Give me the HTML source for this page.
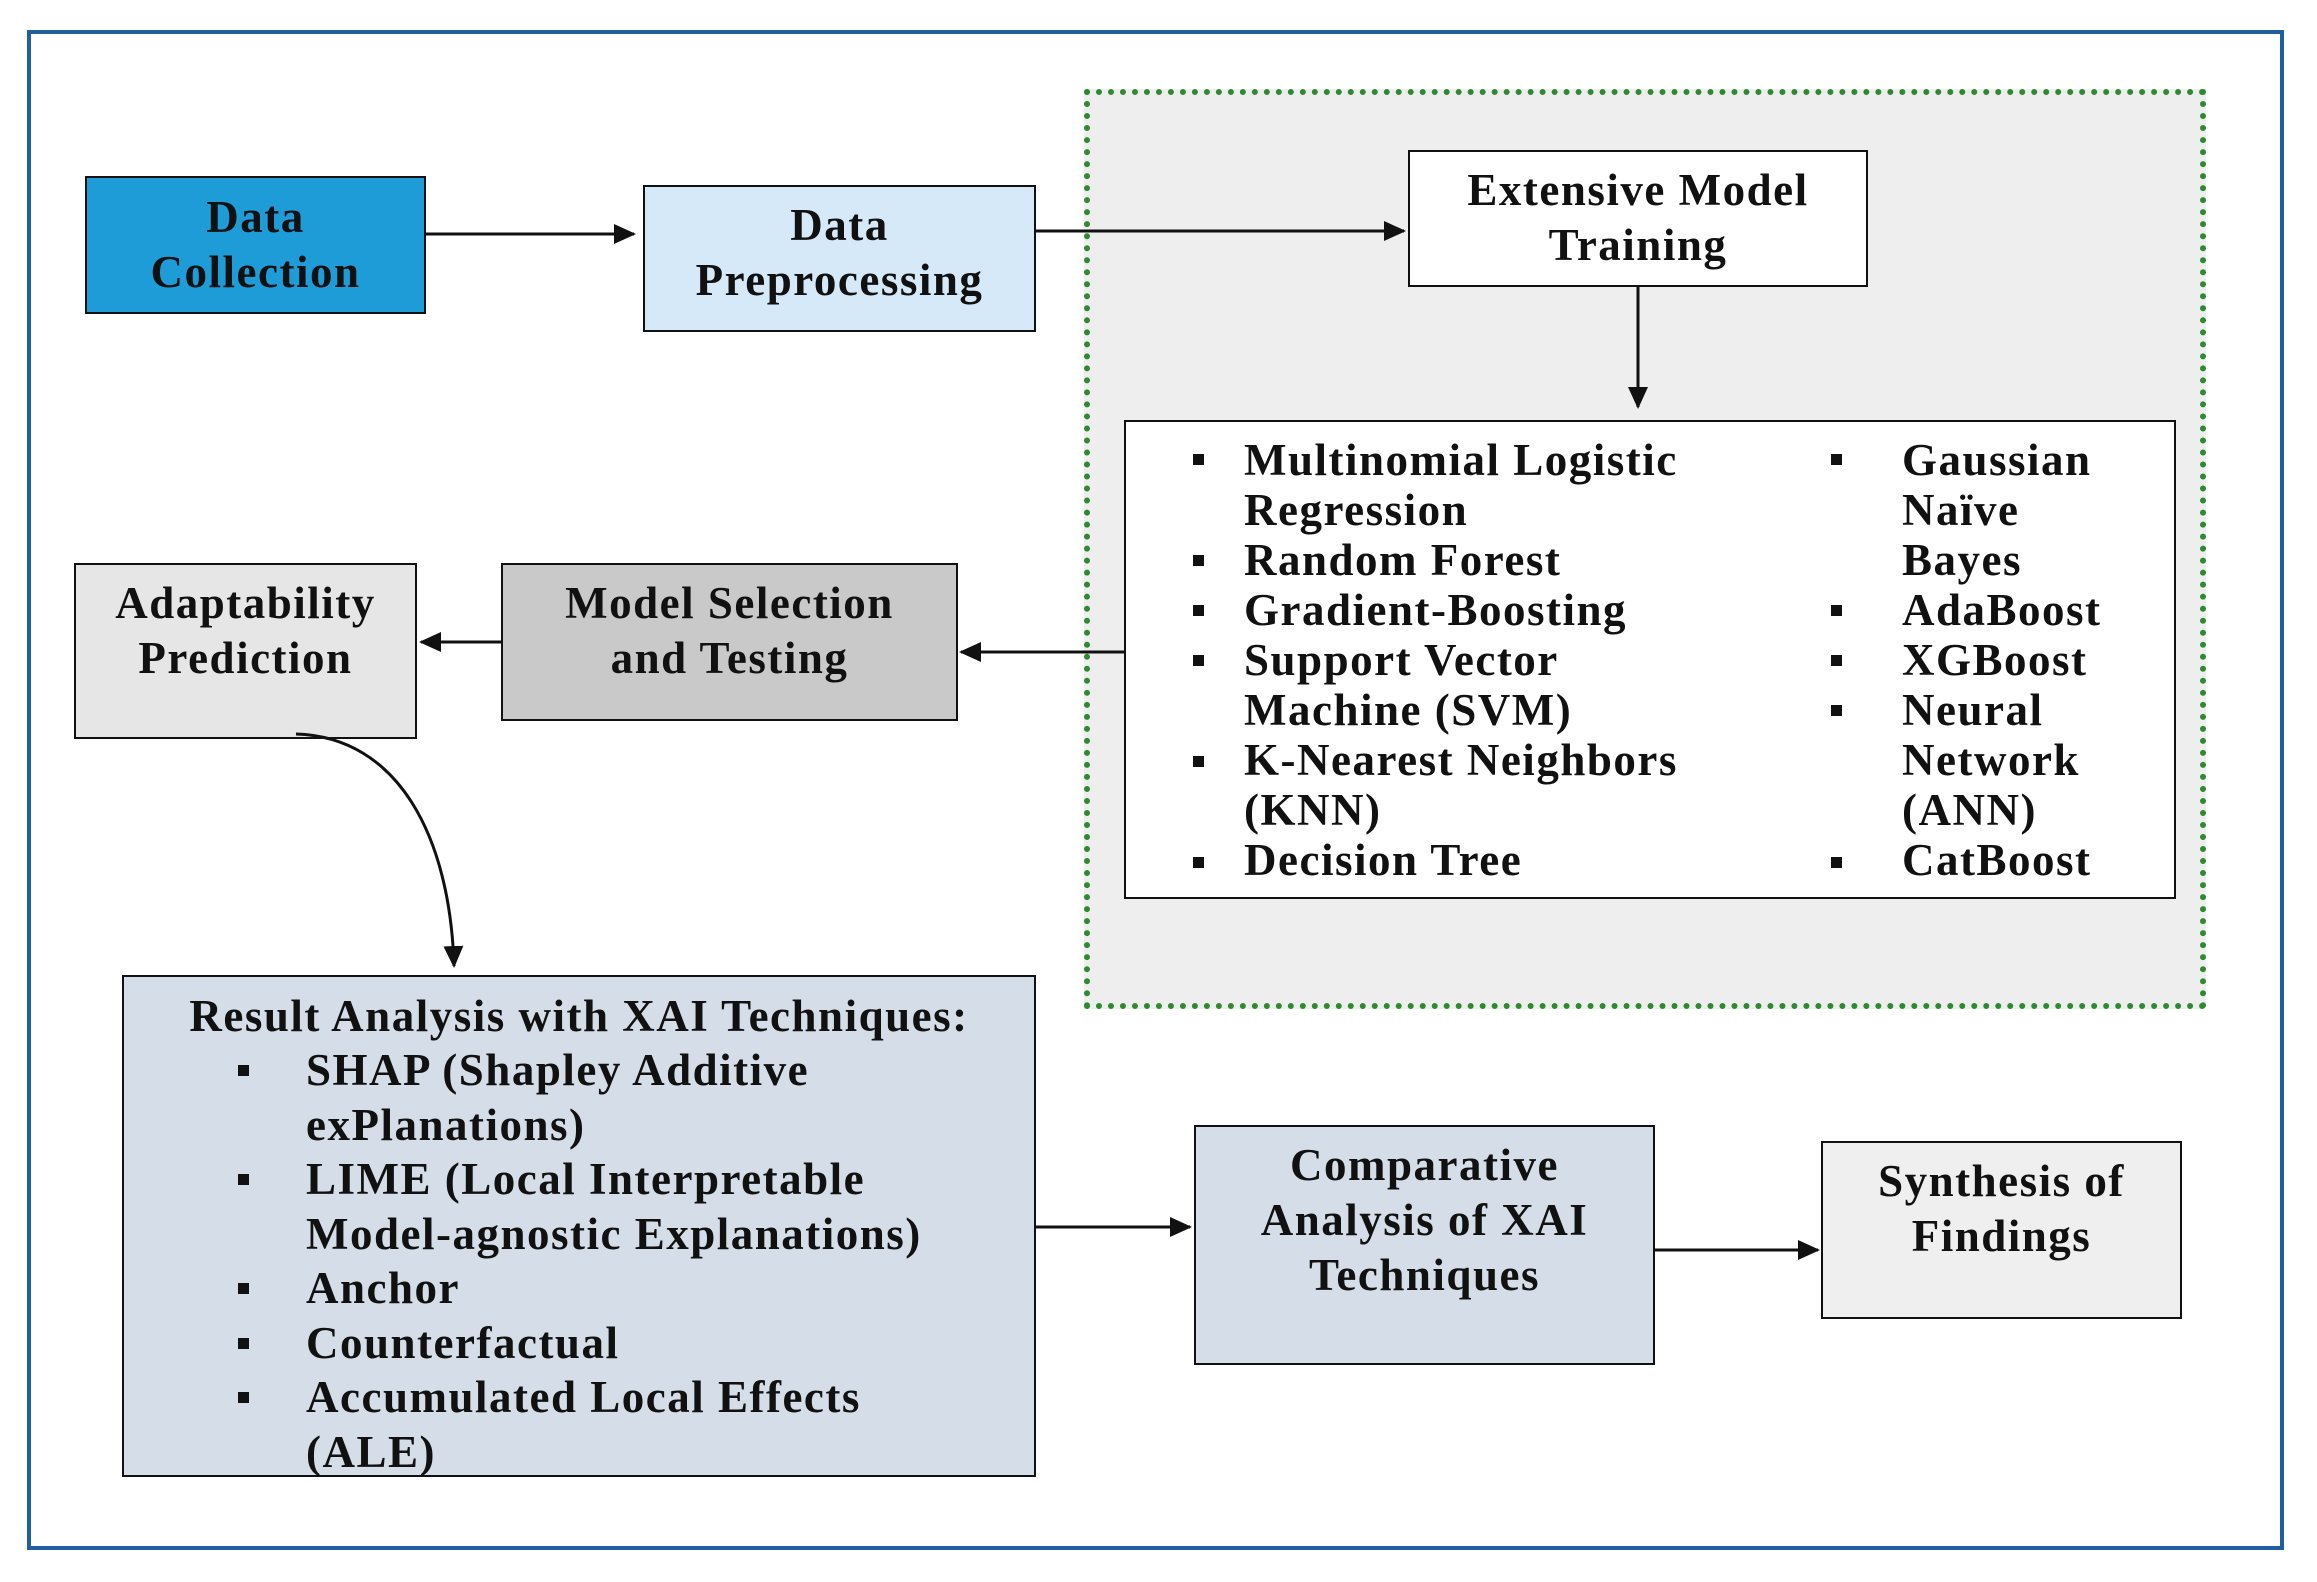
<!DOCTYPE html>
<html><head><meta charset="utf-8"><style>
body{margin:0;width:2317px;height:1582px;background:#fff;position:relative;overflow:hidden;font-family:"Liberation Serif",serif;font-weight:bold;color:#111}
.b{position:absolute;box-sizing:border-box;border:2px solid #111}
.t{position:absolute;white-space:nowrap;font-size:45px;line-height:50px;letter-spacing:1.5px}
.c{text-align:center}
.sq{position:absolute;width:11px;height:11px;background:#111}
</style></head><body>
<div class="b" style="left:27px;top:30px;width:2257px;height:1520px;border:4px solid #1f5fa0"></div>
<div class="b" style="left:1084px;top:89px;width:1122px;height:920px;border:6px dotted #2e8a2e;background:#eeeeee"></div>

<div class="b" style="left:85px;top:176px;width:341px;height:138px;background:#1e9cd8"></div>
<div class="t c" style="left:85px;top:190px;width:341px;line-height:55px">Data<br>Collection</div>

<div class="b" style="left:643px;top:185px;width:393px;height:147px;background:#d6e9f8"></div>
<div class="t c" style="left:643px;top:198px;width:393px;line-height:55px">Data<br>Preprocessing</div>

<div class="b" style="left:1408px;top:150px;width:460px;height:137px;background:#fff"></div>
<div class="t c" style="left:1408px;top:163px;width:460px;line-height:55px">Extensive Model<br>Training</div>

<div class="b" style="left:1124px;top:420px;width:1052px;height:479px;background:#fff"></div>
<div class="t" style="left:1244px;top:435px">Multinomial Logistic<br>Regression<br>Random Forest<br>Gradient-Boosting<br>Support Vector<br>Machine (SVM)<br>K-Nearest Neighbors<br>(KNN)<br>Decision Tree</div>
<div class="t" style="left:1902px;top:435px">Gaussian<br>Naïve<br>Bayes<br>AdaBoost<br>XGBoost<br>Neural<br>Network<br>(ANN)<br>CatBoost</div>
<div class="sq" style="left:1193px;top:454px"></div>
<div class="sq" style="left:1193px;top:555px"></div>
<div class="sq" style="left:1193px;top:605px"></div>
<div class="sq" style="left:1193px;top:655px"></div>
<div class="sq" style="left:1193px;top:756px"></div>
<div class="sq" style="left:1193px;top:857px"></div>
<div class="sq" style="left:1831px;top:454px"></div>
<div class="sq" style="left:1831px;top:605px"></div>
<div class="sq" style="left:1831px;top:655px"></div>
<div class="sq" style="left:1831px;top:705px"></div>
<div class="sq" style="left:1831px;top:857px"></div>

<div class="b" style="left:501px;top:563px;width:457px;height:158px;background:#c9c9c9"></div>
<div class="t c" style="left:501px;top:576px;width:457px;line-height:55px">Model Selection<br>and Testing</div>

<div class="b" style="left:74px;top:563px;width:343px;height:176px;background:#e6e6e6"></div>
<div class="t c" style="left:74px;top:576px;width:343px;line-height:55px">Adaptability<br>Prediction</div>

<div class="b" style="left:122px;top:975px;width:914px;height:502px;background:#d5dee8;overflow:hidden">
<div class="t c" style="left:0;top:12px;width:910px;line-height:54.5px">Result Analysis with XAI Techniques:</div>
<div class="t" style="left:182px;top:66px;line-height:54.5px">SHAP (Shapley Additive<br>exPlanations)<br>LIME (Local Interpretable<br>Model-agnostic Explanations)<br>Anchor<br>Counterfactual<br>Accumulated Local Effects<br>(ALE)</div>
<div class="sq" style="left:114px;top:88px"></div>
<div class="sq" style="left:114px;top:197px"></div>
<div class="sq" style="left:114px;top:306px"></div>
<div class="sq" style="left:114px;top:361px"></div>
<div class="sq" style="left:114px;top:415px"></div>
</div>

<div class="b" style="left:1194px;top:1125px;width:461px;height:240px;background:#d5dee8"></div>
<div class="t c" style="left:1194px;top:1138px;width:461px;line-height:55px">Comparative<br>Analysis of XAI<br>Techniques</div>

<div class="b" style="left:1821px;top:1141px;width:361px;height:178px;background:#efefef"></div>
<div class="t c" style="left:1821px;top:1154px;width:361px;line-height:55px">Synthesis of<br>Findings</div>

<svg width="2317" height="1582" style="position:absolute;left:0;top:0" fill="none" stroke="#111" stroke-width="3">
<defs><marker id="m" markerWidth="22" markerHeight="20" refX="20" refY="10" orient="auto" markerUnits="userSpaceOnUse"><path d="M0,0L22,10L0,20z" fill="#111" stroke="none"/></marker></defs>
<path d="M426,234H634" marker-end="url(#m)"/>
<path d="M1036,231H1404" marker-end="url(#m)"/>
<path d="M1638,287V407" marker-end="url(#m)"/>
<path d="M1124,652H961" marker-end="url(#m)"/>
<path d="M501,642H421" marker-end="url(#m)"/>
<path d="M296,734C398,737 450,836 454,966" marker-end="url(#m)"/>
<path d="M1036,1227H1190" marker-end="url(#m)"/>
<path d="M1655,1250H1818" marker-end="url(#m)"/>
</svg>
</body></html>
